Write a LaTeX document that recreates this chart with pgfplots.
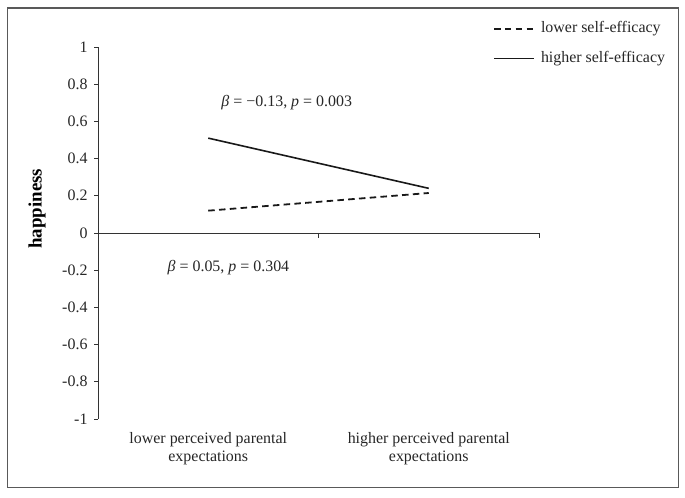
\documentclass[border=0pt]{standalone}
\usepackage{pgfplots}
\pgfplotsset{compat=1.18}
\usepackage{fontspec}
\setmainfont{Liberation Serif}
\begin{document}
\begin{tikzpicture}[x=1bp,y=1bp]
\path[use as bounding box] (0,0) rectangle (685,498);
\draw[black!65, line width=1.3bp] (7.5,10.5) rectangle (678.5,490);
\begin{axis}[
  at={(98bp,79bp)}, anchor=south west,
  scale only axis, width=441bp, height=372bp,
  xmin=0, xmax=2, ymin=-1, ymax=1,
  axis y line=left, axis x line=bottom,
  axis line style={-, line width=0.9bp, black!80},
  x axis line style={draw=none},
  xtick={0.5,1.5},
  xticklabels={{lower perceived parental\\expectations},{higher perceived parental\\expectations}},
  xticklabel style={align=center, font=\fontsize{16}{18}\selectfont, text=black!85, yshift=-6bp},
  major x tick style={draw=none},
  ytick={-1,-0.8,-0.6,-0.4,-0.2,0,0.2,0.4,0.6,0.8,1},
  yticklabels={-1,-0.8,-0.6,-0.4,-0.2,0,0.2,0.4,0.6,0.8,1},
  yticklabel style={font=\fontsize{16}{18}\selectfont, text=black!85, xshift=-3bp},
  tick align=outside, major tick length=4bp,
  major y tick style={line width=0.9bp, black!80},
  /pgf/number format/assume math mode=true,
  ylabel={\textbf{happiness}},
  ylabel style={at={(axis description cs:-0.138,0.565)}, anchor=center, font=\fontsize{19}{22}\selectfont},
  legend style={at={(axis description cs:0.8957,1.07)}, anchor=north west,
    draw=none, fill=none, font=\fontsize{16}{18}\selectfont, text=black!85,
    row sep=15bp, inner sep=0pt,
    nodes={inner sep=0pt, text height=11bp, text depth=4bp}},
  legend cell align=left,
  legend image code/.code={\draw[#1] (0bp,0bp) -- (40bp,0bp);},
  clip=false,
]
\draw[line width=0.9bp, black!80] (axis cs:0,0) -- (axis cs:2,0);
\draw[line width=0.9bp, black!80] (axis cs:1,0) -- ([yshift=-5bp]axis cs:1,0);
\draw[line width=0.9bp, black!80] (axis cs:2,0) -- ([yshift=-5bp]axis cs:2,0);
\addplot[black!90, line width=1.8bp, dash pattern=on 6.5bp off 4.3bp] coordinates {(0.5,0.12) (1.5,0.215)};
\addlegendentry{\hspace{6bp}lower self-efficacy}
\addplot[black!90, line width=1.6bp] coordinates {(0.5,0.51) (1.5,0.24)};
\addlegendentry{\hspace{6bp}higher self-efficacy}
\node[anchor=west, font=\fontsize{16}{18}\selectfont, text=black!85] at (axis cs:0.544,0.699) {\textit{β} = −0.13, \textit{p} = 0.003};
\node[anchor=west, font=\fontsize{16}{18}\selectfont, text=black!85] at (axis cs:0.30,-0.188) {\textit{β} = 0.05, \textit{p} = 0.304};
\end{axis}
\end{tikzpicture}
\end{document}
